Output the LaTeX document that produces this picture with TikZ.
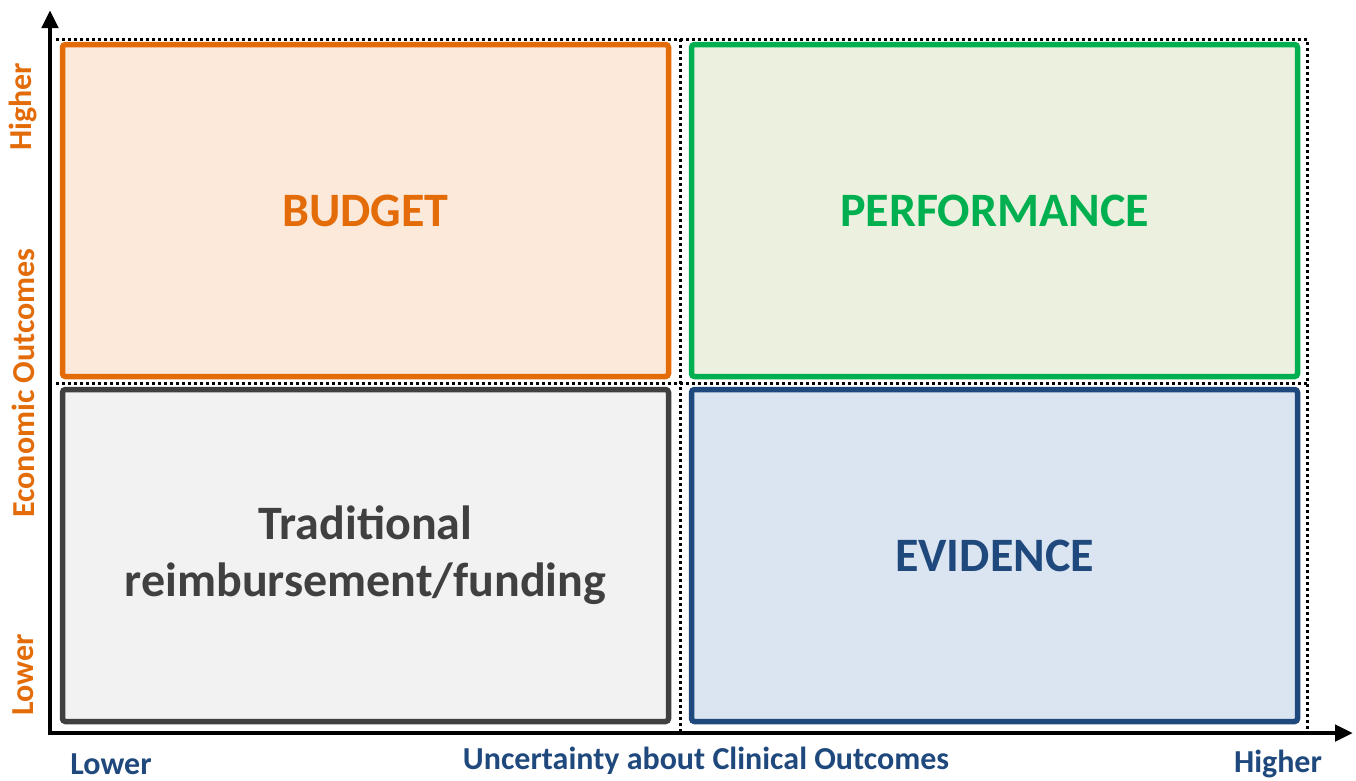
\documentclass[tikz,border=0pt]{standalone}
\usepackage{fontspec}
\setmainfont{Carlito}
\usetikzlibrary{arrows.meta}
\definecolor{orng}{HTML}{E36C09}
\definecolor{orngfill}{HTML}{FDE9D9}
\definecolor{grn}{HTML}{00B050}
\definecolor{grnfill}{HTML}{EBF1DE}
\definecolor{gry}{HTML}{404040}
\definecolor{gryfill}{HTML}{F2F2F2}
\definecolor{blu}{HTML}{1F497D}
\definecolor{blufill}{HTML}{DBE5F1}
\tikzset{
  quad/.style={draw, line width=5.5pt, rounded corners=3pt, minimum width=606pt, minimum height=332pt, inner sep=0pt, align=center, font=\fontsize{48}{57}\selectfont\bfseries},
  dotline/.style={line width=3pt, dash pattern=on 3pt off 3pt},
  axis/.style={line width=4.5pt, -{Triangle[length=18pt,width=16pt]}},
  axlab/.style={font=\fontsize{32}{36}\selectfont\bfseries, inner sep=0pt},
}
\begin{document}
\begin{tikzpicture}[x=1pt,y=1pt]
\useasboundingbox (0,0) rectangle (1356,-780);
% dotted grid
\coordinate (tl) at (56,-39);
\coordinate (tr) at (1307,-39);
\coordinate (br) at (1307,-733);
\coordinate (ml) at (56,-383);
\coordinate (mr) at (1307,-383);
\coordinate (mt) at (680,-39);
\coordinate (mb) at (680,-733);
\draw[dotline] (tl) -- (tr) -- (br);
\draw[dotline] (ml) -- (mr);
\draw[dotline] (mt) -- (mb);
% quadrants
\node[quad, color=orng, fill=orngfill] (budget) at (365.5,-210.5) {BUDGET};
\node[quad, color=grn, fill=grnfill] (perf) at (994.5,-210.5) {PERFORMANCE};
\node[quad, color=gry, fill=gryfill] (trad) at (365.5,-555.5) {\raisebox{-4pt}{Traditional}\\\raisebox{-4pt}{reimbursement/funding}};
\node[quad, color=blu, fill=blufill] (evid) at (994.5,-555.5) {EVIDENCE};
% axes
\coordinate (origin) at (50,-733);
\coordinate (ytip) at (50,-10);
\coordinate (xtip) at (1353,-733);
\draw[axis] (50,-735.25) -- (ytip);
\draw[axis] (47.75,-733) -- (xtip);
% axis labels
\node[axlab, color=orng, rotate=90] (yhi) at (23,-107) {Higher};
\node[axlab, color=orng, rotate=90] (ymid) at (23,-383) {Economic Outcomes};
\node[axlab, color=orng, rotate=90] (ylo) at (23,-675) {Lower};
\node[axlab, color=blu] (xlo) at (111,-764) {Lower};
\node[axlab, color=blu] (xmid) at (706,-761) {Uncertainty about Clinical Outcomes};
\node[axlab, color=blu] (xhi) at (1278,-764) {Higher};
\end{tikzpicture}
\end{document}
